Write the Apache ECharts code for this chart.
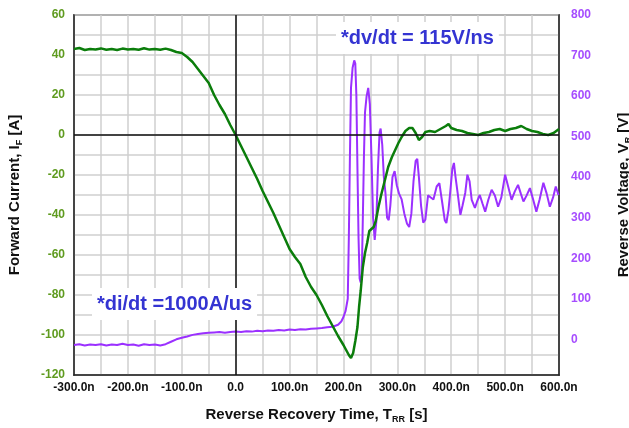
<!DOCTYPE html>
<html>
<head>
<meta charset="utf-8">
<script src="https://cdn.jsdelivr.net/npm/echarts@6/dist/echarts.min.js"></script>
<style>
  html, body { margin: 0; padding: 0; background: #fff; }
  #chart { width: 629px; height: 428px; }
</style>
</head>
<body>
<div id="chart"></div>
<script>
// forward current I_F [A] vs time [ns]
const tCurrent = [-300,-290,-280,-270,-260,-250,-240,-230,-220,-210,-200,-190,-180,-170,-160,-150,-140,-130,-120,-110,
  -100,-90,-80,-70,-60,-50,-40,-30,-20,-10,0,10,20,30,40,50,60,70,80,90,
  100,110,120,130,140,150,160,170,180,190,200,205,210,214,218,222,226,229,232,236,
  240,244,248,252,256,260,265,270,277,283,290,296,302,308,315,322,328,334,340,346,
  352,360,370,380,390,395,400,410,420,430,440,450,460,470,480,490,500,510,520,530,
  540,550,560,570,580,590,600]
const current = [43,43.5,42.5,43,42.8,43.3,42.6,43,42.5,43.2,42.8,43,42.6,43.4,42.7,43,42.6,43.2,42.5,41.5,
  41,39,36.5,33,29.5,26,20,15,10.5,5,0,-5.5,-11,-16.5,-22,-28,-33.5,-39,-45,-51,
  -57,-61,-64.5,-71,-76,-80,-85,-90.5,-95.5,-100.5,-105,-107.5,-110,-111.5,-109,-103,-96,-86,-78,-66,
  -59,-54,-48,-47,-46,-43,-36,-30,-22.5,-16,-11,-7.5,-4,-1,2,3.5,3.5,1,-2.5,-1,
  1.5,2,1.5,3,4.5,5.5,3.5,2.5,2,1,0.5,0,1,1.5,2.5,3,2,3,3.5,4.5,
  3,2,1.5,0.5,0,1,3]

// reverse voltage V_R [V] vs time [ns]
const tVoltage = [-300,-290,-280,-270,-260,-250,-240,-230,-220,-210,-200,-190,-180,-170,-160,-150,-140,-130,-120,-110,
  -100,-90,-80,-70,-60,-50,-40,-30,-20,-10,0,10,20,30,40,50,60,70,80,90,
  100,110,120,130,140,150,160,170,180,190,196,200,204,208,210,212,214,217,220,222,
  224,226,228,230,232,234,236,238,240,243,246,249,252,255,258,261,264,267,269,272,
  275,278,281,284,287,291,295,299,303,308,313,318,322,326,330,334,337,340,344,348,
  352,357,362,367,373,378,383,388,391,395,398,402,405,408,412,417,421,426,430,434,
  438,444,448,453,458,463,469,475,481,487,493,500,506,512,518,524,529,534,540,546,
  552,558,564,571,577,583,589,594,599]
const voltage = [-14,-12,-15,-13,-14,-12,-15,-13,-14,-11,-14,-13,-16,-12,-14,-13,-15,-12,-6,0,
  4,7,11,13,15,16,17,18,16,18,19,18,20,19,21,20,22,21,23,22,
  24,23,25,24,26,27,28,30,31,36,44,55,70,100,250,450,620,670,688,680,
  600,420,250,150,140,160,300,450,560,600,620,580,450,300,245,290,420,510,520,480,
  400,360,300,294,330,400,415,380,360,345,310,285,277,310,390,440,445,400,330,288,
  295,355,350,345,377,385,340,294,287,320,361,420,435,400,360,307,330,361,406,390,
  344,324,340,356,335,315,345,369,355,327,350,406,375,344,365,381,360,340,355,373,
  345,315,345,386,360,327,350,377,356]

const xTicks = [-300,-200,-100,0,100,200,300,400,500,600]
const leftTicks = [-120,-100,-80,-60,-40,-20,0,20,40,60]
const rightTicks = [0,100,200,300,400,500,600,700,800]

const font = '"Liberation Sans", Arial, sans-serif'
let chart = echarts.init(document.getElementById('chart'))

let option = {
  backgroundColor: '#fff',
  animation: false,
  grid: {
    left: 74, right: 70, top: 15, bottom: 53,
    show: true, borderColor: '#222', borderWidth: 1.5,
    outerBoundsMode: 'none'
  },
  xAxis: {
    type: 'value', min: -300, max: 600, interval: 50,
    name: 'Reverse Recovery Time, T{sub|RR} [s]',
    nameLocation: 'middle', nameGap: 30,
    nameTextStyle: {
      fontFamily: font, fontWeight: 'bold', fontSize: 15, color: '#111',
      rich: { sub: { fontFamily: font, fontWeight: 'bold', fontSize: 9, color: '#111', padding: [10, 0, 0, 0] } }
    },
    axisLine: { onZero: false, lineStyle: { color: '#222', width: 1.5 } },
    axisTick: { show: false },
    splitLine: { lineStyle: { color: '#cfcfcf', width: 1.5 } },
    axisLabel: {
      fontFamily: font, fontWeight: 'bold', fontSize: 12, color: '#111', margin: 7,
      formatter: function (v) {
        if (xTicks.indexOf(v) < 0) return ''
        return v === 0 ? '0.0' : v.toFixed(1) + 'n'
      }
    }
  },
  yAxis: [
    {
      type: 'value', min: -120, max: 60, interval: 10,
      name: 'Forward Current, I{sub|F} [A]',
      nameLocation: 'middle', nameGap: 50,
      nameTextStyle: {
        fontFamily: font, fontWeight: 'bold', fontSize: 15, color: '#111',
        rich: { sub: { fontFamily: font, fontWeight: 'bold', fontSize: 9, color: '#111', padding: [10, 0, 0, 0] } }
      },
      axisLine: { onZero: false, lineStyle: { color: '#222', width: 1.5 } },
      axisTick: { show: false },
      splitLine: { lineStyle: { color: '#cfcfcf', width: 1.5 } },
      axisLabel: {
        fontFamily: font, fontWeight: 'bold', fontSize: 12, color: '#5f9b1f', margin: 9,
        formatter: function (v) { return leftTicks.indexOf(v) < 0 ? '' : String(v) }
      }
    },
    {
      type: 'value', min: -88, max: 800, position: 'right',
      name: 'Reverse Voltage, V{sub|R} [V]',
      nameLocation: 'middle', nameGap: 55,
      nameTextStyle: {
        fontFamily: font, fontWeight: 'bold', fontSize: 15, color: '#111',
        rich: { sub: { fontFamily: font, fontWeight: 'bold', fontSize: 9, color: '#111', padding: [10, 0, 0, 0] } }
      },
      axisLine: { show: true, onZero: false, lineStyle: { color: '#222', width: 1.5 } },
      axisTick: { show: false },
      splitLine: { show: false },
      axisLabel: {
        customValues: rightTicks,
        fontFamily: font, fontWeight: 'bold', fontSize: 12, color: '#a64dff', margin: 12
      }
    }
  ],
  graphic: [
    {
      type: 'text', left: 336, top: 22, z: 50,
      style: {
        text: '*dv/dt = 115V/ns', fill: '#3434d2',
        font: 'bold 20px "Liberation Sans", Arial, sans-serif',
        backgroundColor: '#fff', padding: [6, 5, 6, 5]
      }
    },
    {
      type: 'text', left: 92, top: 288, z: 50,
      style: {
        text: '*di/dt =1000A/us', fill: '#3434d2',
        font: 'bold 20px "Liberation Sans", Arial, sans-serif',
        backgroundColor: '#fff', padding: [6, 5, 6, 5]
      }
    }
  ],
  series: [
    {
      name: 'zero', type: 'line', yAxisIndex: 0, z: 1,
      data: [], showSymbol: false,
      markLine: {
        silent: true, symbol: ['none', 'none'], label: { show: false },
        lineStyle: { color: '#111', width: 1.5, type: 'solid' },
        data: [{ xAxis: 0 }, { yAxis: 0 }]
      }
    },
    {
      name: 'V_R', type: 'line', yAxisIndex: 1, z: 3,
      showSymbol: false,
      lineStyle: { color: '#9b30ff', width: 2 },
      data: tVoltage.map((t, i) => [t, voltage[i]])
    },
    {
      name: 'I_F', type: 'line', yAxisIndex: 0, z: 4,
      showSymbol: false,
      lineStyle: { color: '#0b7d0b', width: 2.5 },
      data: tCurrent.map((t, i) => [t, current[i]])
    }
  ]
}
chart.setOption(option)
</script>
</body>
</html>
